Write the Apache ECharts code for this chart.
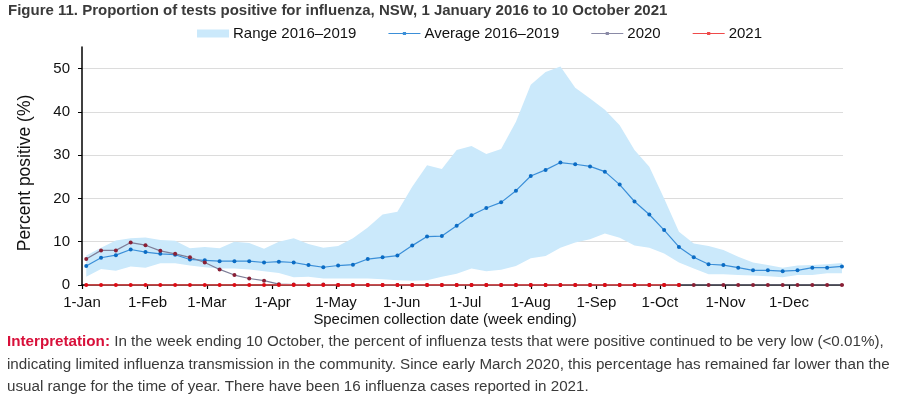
<!DOCTYPE html>
<html>
<head>
<meta charset="utf-8">
<script src="https://cdn.jsdelivr.net/npm/echarts@6/dist/echarts.min.js"></script>
<style>
html,body{margin:0;padding:0;background:#fff;}
#chart{width:899px;height:399px;}
</style>
</head>
<body>
<div id="chart"></div>
<script>
// ---- data ----
const weekEnding = [
  '2021-01-03','2021-01-10','2021-01-17','2021-01-24','2021-01-31',
  '2021-02-07','2021-02-14','2021-02-21','2021-02-28',
  '2021-03-07','2021-03-14','2021-03-21','2021-03-28',
  '2021-04-04','2021-04-11','2021-04-18','2021-04-25',
  '2021-05-02','2021-05-09','2021-05-16','2021-05-23','2021-05-30',
  '2021-06-06','2021-06-13','2021-06-20','2021-06-27',
  '2021-07-04','2021-07-11','2021-07-18','2021-07-25',
  '2021-08-01','2021-08-08','2021-08-15','2021-08-22','2021-08-29',
  '2021-09-05','2021-09-12','2021-09-19','2021-09-26',
  '2021-10-03','2021-10-10','2021-10-17','2021-10-24','2021-10-31',
  '2021-11-07','2021-11-14','2021-11-21','2021-11-28',
  '2021-12-05','2021-12-12','2021-12-19','2021-12-26'
];
const rangeLow = [
  1.9, 3.7, 3.3, 4.3, 4.0, 5.0, 5.0, 4.5, 4.1, 3.8,
  3.8, 3.6, 3.2, 2.8, 1.8, 1.9, 1.5, 1.5, 1.5, 1.5,
  1.3, 1.1, 1.0, 1.1, 1.9, 2.6, 3.8, 3.2, 3.5, 4.4,
  6.2, 6.7, 8.6, 9.8, 10.6, 11.9, 10.9, 9.1, 8.6, 7.3,
  5.2, 3.8, 2.5, 2.5, 2.3, 2.2, 2.0, 1.8, 2.3, 2.3,
  2.7, 2.7
];
const rangeHigh = [
  6.8, 8.6, 10.3, 10.8, 11.0, 10.4, 10.2, 8.5, 8.8, 8.5,
  10.0, 9.7, 8.4, 10.0, 10.8, 9.5, 8.6, 9.0, 10.8, 13.3,
  16.3, 16.9, 22.7, 27.7, 26.8, 31.2, 32.1, 30.3, 31.4, 37.7,
  46.3, 49.2, 50.5, 45.6, 43.1, 40.5, 36.9, 31.2, 27.3, 20.0,
  12.3, 9.6, 9.0, 8.1, 6.5, 5.2, 4.6, 4.0, 4.5, 4.6,
  4.8, 5.1
];
const average = [
  4.4, 6.3, 6.9, 8.2, 7.6, 7.2, 7.0, 5.9, 5.7, 5.5,
  5.5, 5.5, 5.2, 5.4, 5.2, 4.6, 4.1, 4.5, 4.7, 6.0,
  6.4, 6.8, 9.1, 11.2, 11.3, 13.7, 16.1, 17.8, 19.1, 21.8,
  25.2, 26.6, 28.3, 27.9, 27.4, 26.2, 23.2, 19.3, 16.3, 12.7,
  8.8, 6.4, 4.8, 4.6, 4.0, 3.4, 3.4, 3.2, 3.4, 4.0,
  4.0, 4.3
];
const y2020 = [
  6.0, 8.0, 8.0, 9.8, 9.2, 7.9, 7.2, 6.4, 5.2, 3.6,
  2.3, 1.5, 1.0, 0.2, 0.1, 0.1, 0.1, 0.0, 0.0, 0.0,
  0.0, 0.0, 0.0, 0.0, 0.0, 0.0, 0.0, 0.0, 0.0, 0.0,
  0.0, 0.0, 0.0, 0.0, 0.0, 0.0, 0.0, 0.0, 0.0, 0.0,
  0.0, 0.0, 0.0, 0.0, 0.0, 0.0, 0.0, 0.0, 0.0, 0.0,
  0.0, 0.0
];
const y2021 = [
  0, 0, 0, 0, 0, 0, 0, 0, 0, 0,
  0, 0, 0, 0, 0, 0, 0, 0, 0, 0,
  0, 0, 0, 0, 0, 0, 0, 0, 0, 0,
  0, 0, 0, 0, 0, 0, 0, 0, 0, 0,
  0
];
const monthTicks = ['2021-01-01','2021-02-01','2021-03-01','2021-04-01','2021-05-01','2021-06-01',
  '2021-07-01','2021-08-01','2021-09-01','2021-10-01','2021-11-01','2021-12-01'];
const monthLabels = ['1-Jan','1-Feb','1-Mar','1-Apr','1-May','1-Jun','1-Jul','1-Aug','1-Sep','1-Oct','1-Nov','1-Dec'];
const yTicks = [0, 10, 20, 30, 40, 50];

const titleText = 'Figure 11. Proportion of tests positive for influenza, NSW, 1 January 2016 to 10 October 2021';
const yTitle = 'Percent positive (%)';
const xTitle = 'Specimen collection date (week ending)';
const interpLines = [
  'In the week ending 10 October, the percent of influenza tests that were positive continued to be very low (<0.01%),',
  'indicating limited influenza transmission in the community. Since early March 2020, this percentage has remained far lower than the',
  'usual range for the time of year. There have been 16 influenza cases reported in 2021.'
];

// ---- build ----
function dayOfYear(s) {
  const p = s.split('-').map(Number);
  return Math.round((Date.UTC(p[0], p[1] - 1, p[2]) - Date.UTC(p[0], 0, 1)) / 86400000);
}
const xs = weekEnding.map(dayOfYear);
const tickDays = monthTicks.map(dayOfYear);
const pair = (arr) => arr.map((v, i) => [xs[i], v]);
const bandData = rangeLow.map((l, i) => [xs[i], l, rangeHigh[i]]);

const FONT = 'Liberation Sans, Arial, sans-serif';
const LINE_ICON = 'path://M0,3.4H32V4.6H0Z M14.4,2.4H17.6V5.6H14.4Z';
const chart = echarts.init(document.getElementById('chart'));
chart.setOption({
  animation: false,
  backgroundColor: '#fff',
  textStyle: { fontFamily: FONT },
  grid: { left: 82, right: 56, top: 47, bottom: 114, containLabel: false },
  legend: {
    left: 197, top: 26, padding: 0,
    itemWidth: 32, itemHeight: 8, itemGap: 32,
    textStyle: { fontFamily: FONT, fontSize: 15, color: '#111', padding: [0, 0, 0, -1] },
    data: [
      { name: 'Range 2016\u20132019', icon: 'rect' },
      { name: 'Average 2016\u20132019', icon: LINE_ICON, itemStyle: { color: '#3b8fd8' } },
      { name: '2020', icon: LINE_ICON, itemStyle: { color: '#8a8aa6' } },
      { name: '2021', icon: LINE_ICON, itemStyle: { color: '#ef4a4a' } }
    ]
  },
  graphic: [
    {
      type: 'text', left: 8, top: 3,
      style: { text: titleText, font: 'bold 15px ' + FONT, fill: '#3a3a3a' }
    },
    {
      type: 'text', x: 25, y: 173, rotation: Math.PI / 2,
      style: { text: yTitle, font: '17.5px ' + FONT, fill: '#111', align: 'center', verticalAlign: 'middle' }
    },
    {
      type: 'text', x: 445, y: 320,
      style: { text: xTitle, font: '14.9px ' + FONT, fill: '#111', align: 'center', verticalAlign: 'middle' }
    },
    {
      type: 'text', left: 7, top: 334,
      style: {
        text: '{b|Interpretation:} ' + interpLines[0],
        font: '15.2px ' + FONT, fill: '#3a3a3a',
        rich: { b: { fontWeight: 'bold', fill: '#d8103a', fontSize: 15.2, fontFamily: FONT } }
      }
    },
    {
      type: 'text', left: 7, top: 357,
      style: { text: interpLines[1], font: '15.2px ' + FONT, fill: '#3a3a3a' }
    },
    {
      type: 'text', left: 7, top: 379,
      style: { text: interpLines[2], font: '15.2px ' + FONT, fill: '#3a3a3a' }
    }
  ],
  xAxis: {
    type: 'value',
    min: 0,
    max: 359.5,
    axisLine: { show: true, lineStyle: { color: '#000', width: 1.5 } },
    axisTick: { show: true, length: 4, customValues: tickDays, lineStyle: { color: '#000', width: 1.2 } },
    axisLabel: {
      customValues: tickDays, fontSize: 15, color: '#111', margin: 10,
      formatter: function (v) {
        const idx = tickDays.indexOf(Math.round(v));
        return idx >= 0 ? monthLabels[idx] : '';
      }
    },
    splitLine: { show: false }
  },
  yAxis: {
    type: 'value', min: yTicks[0], max: 55, interval: 10,
    axisLine: { show: true, lineStyle: { color: '#000', width: 1.5 } },
    axisTick: { show: true, length: 4, lineStyle: { color: '#000' } },
    axisLabel: { fontSize: 15, color: '#111', margin: 12, showMaxLabel: false },
    splitLine: { show: true, showMaxLine: false, lineStyle: { color: '#dcdcdc', width: 1.2 } }
  },
  series: [
    {
      name: 'Range 2016\u20132019', type: 'custom', silent: true,
      data: bandData,
      encode: { x: 0, y: [1, 2] },
      itemStyle: { color: '#cbe9fb' },
      z: 1,
      renderItem: function (params, api) {
        if (params.dataIndex !== 0) return null;
        const top = [], bottom = [];
        for (let i = 0; i < bandData.length; i++) {
          top.push(api.coord([bandData[i][0], bandData[i][2]]));
          bottom.push(api.coord([bandData[i][0], bandData[i][1]]));
        }
        return {
          type: 'polygon',
          shape: { points: top.concat(bottom.reverse()) },
          style: { fill: '#cbe9fb' }
        };
      }
    },
    {
      name: 'Average 2016\u20132019', type: 'line', data: pair(average),
      symbol: 'circle', symbolSize: 4, showSymbol: true,
      lineStyle: { color: '#3b8fd8', width: 1.2 },
      itemStyle: { color: '#0b6cc4' }, z: 3
    },
    {
      name: '2020', type: 'line', data: pair(y2020),
      symbol: 'circle', symbolSize: 4,
      lineStyle: { color: '#7e7e98', width: 1.2 },
      itemStyle: { color: '#8a1f35' }, z: 4
    },
    {
      name: '2021', type: 'line', data: pair(y2021),
      symbol: 'circle', symbolSize: 4,
      lineStyle: { color: '#ef4a4a', width: 1.5 },
      itemStyle: { color: '#e00a14' }, z: 5
    }
  ]
});
</script>
</body>
</html>
